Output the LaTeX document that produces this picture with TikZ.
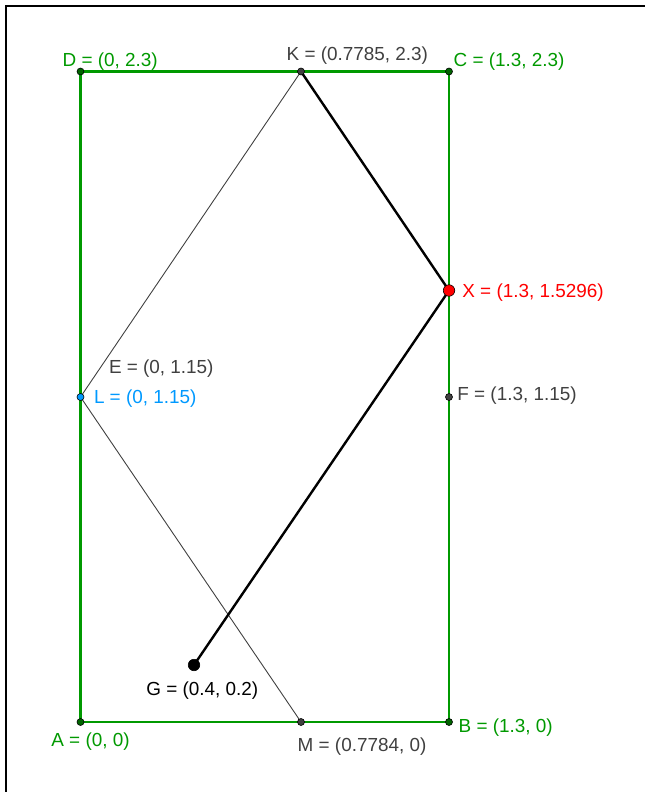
\documentclass[tikz,border=0pt]{standalone}
\usepackage{fontspec}
\setmainfont{Liberation Sans}
\definecolor{ggreen}{RGB}{0,153,0}
\definecolor{gdgreen}{RGB}{0,100,0}
\definecolor{ggrey}{RGB}{64,64,64}
\definecolor{gblue}{RGB}{0,153,255}
\definecolor{gred}{RGB}{255,0,0}
\begin{document}
\begin{tikzpicture}[x=1pt,y=-1pt,
  lab/.style={anchor=base west,inner sep=0pt,font=\fontsize{18.9}{22}\selectfont},
  dotpt/.style={circle,draw=black,line width=0.6pt,minimum size=7pt,inner sep=0pt},
  bigpt/.style={circle,draw=black,line width=0.6pt,minimum size=11.5pt,inner sep=0pt},
  side/.style={ggreen,line width=2.2pt},
  thin/.style={ggrey,line width=0.9pt},
  thick/.style={black,line width=2.4pt,line cap=round}]
\useasboundingbox (0,0) rectangle (645,792);
% frame
\coordinate (fb) at (6,792);
\coordinate (ftl) at (6,6);
\coordinate (fr) at (645,6);
\draw[line width=2pt] (fb) -- (ftl) -- (fr);
% points
\coordinate (A) at (80.5,722);
\coordinate (B) at (449,722);
\coordinate (C) at (449,71.5);
\coordinate (D) at (80.5,71.5);
\coordinate (K) at (301,71.5);
\coordinate (M) at (301,722);
\coordinate (L) at (80.5,397);
\coordinate (F) at (449,397);
\coordinate (X) at (449,290.5);
\coordinate (G) at (194,665);
% lines
\draw[side] (A) -- (B) -- (C) -- (D) -- cycle;
\draw[thin] (K) -- (L) -- (M);
\draw[thick] (K) -- (X) -- (G);
% dots
\node[dotpt,fill=gdgreen] (pA) at (A) {};
\node[dotpt,fill=gdgreen] (pB) at (B) {};
\node[dotpt,fill=gdgreen] (pC) at (C) {};
\node[dotpt,fill=gdgreen] (pD) at (D) {};
\node[dotpt,fill=ggrey] (pK) at (K) {};
\node[dotpt,fill=ggrey] (pM) at (M) {};
\node[dotpt,fill=ggrey] (pF) at (F) {};
\node[dotpt,fill=gblue] (pL) at (L) {};
\node[bigpt,fill=gred] (pX) at (X) {};
\node[bigpt,fill=black] (pG) at (G) {};
% labels
\node[lab,text=ggreen] (tD) at (62.5,66.7) {D = (0, 2.3)};
\node[lab,text=ggrey] (tK) at (286.5,61) {K = (0.7785, 2.3)};
\node[lab,text=ggreen] (tC) at (453.5,66.7) {C = (1.3, 2.3)};
\node[lab,text=ggreen] (tA) at (51.2,746.7) {A = (0, 0)};
\node[lab,text=ggrey] (tM) at (297.5,751.7) {M = (0.7784, 0)};
\node[lab,text=ggreen] (tB) at (458.5,732.3) {B = (1.3, 0)};
\node[lab,text=black] (tG) at (146.2,695) {G = (0.4, 0.2)};
\node[lab,text=ggrey] (tE) at (108.8,373.3) {E = (0, 1.15)};
\node[lab,text=gblue] (tL) at (93.8,403.3) {L = (0, 1.15)};
\node[lab,text=gred] (tX) at (462.2,297.7) {X = (1.3, 1.5296)};
\node[lab,text=ggrey] (tF) at (457.2,400) {F = (1.3, 1.15)};
\end{tikzpicture}
\end{document}
